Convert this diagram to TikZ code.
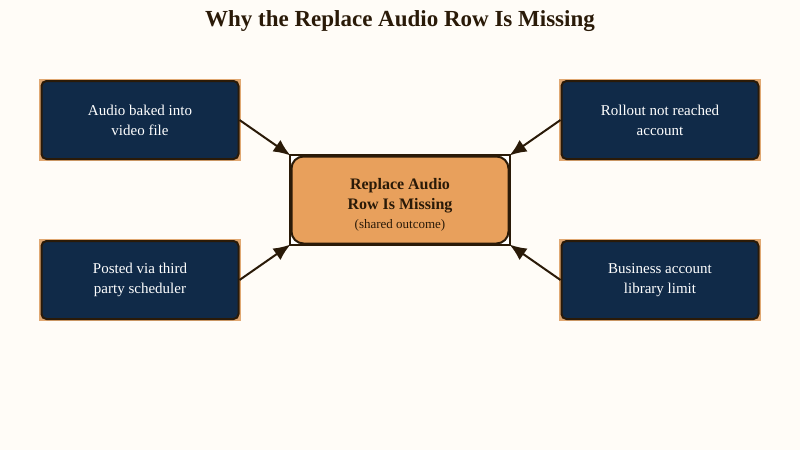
\documentclass[tikz,border=0pt]{standalone}
\usepackage{fontspec}
\setmainfont{Liberation Serif}
\usetikzlibrary{arrows.meta}
\definecolor{bg}{HTML}{FFFCF7}
\definecolor{navy}{HTML}{102A48}
\definecolor{tan}{HTML}{E0A872}
\definecolor{dk}{HTML}{2A1A08}
\definecolor{orng}{HTML}{E8A05C}
\tikzset{
  cause/.style={draw=dk,line width=2pt,fill=navy,rounded corners=5pt,minimum width=197pt,minimum height=78pt,text=white,align=center,font=\fontsize{15}{20}\selectfont},
  arr/.style={draw=dk,line width=2pt,-{Latex[length=17pt,width=14pt]}}
}
\begin{document}
\begin{tikzpicture}[x=1pt,y=-1pt]
\fill[bg] (0,0) rectangle (800,450);
\useasboundingbox (0,0) rectangle (800,450);
\node[font=\bfseries\fontsize{23}{26}\selectfont,text=dk] (title) at (400,21) {Why the Replace Audio Row Is Missing};
\foreach \n/\x/\y/\t in {a/140/120/{Audio baked into\\video file},b/140/280/{Posted via third\\party scheduler},c/660/120/{Rollout not reached\\account},d/660/280/{Business account\\library limit}}{
  \fill[tan] (\x-101,\y-41) rectangle (\x+101,\y+41);
  \node[cause] (\n) at (\x,\y) {\t};
}
\draw[dk,line width=1.2pt,fill=white] (290,155) rectangle (510,245);
\node[draw=dk,line width=2pt,fill=orng,rounded corners=12pt,minimum width=217pt,minimum height=87pt] (m) at (400,200) {};
\node[align=center,text=dk,font=\fontsize{16}{20}\selectfont] (mt) at (400,205) {\bfseries Replace Audio\\\bfseries Row Is Missing\\[-1pt]{\fontsize{13}{16}\selectfont (shared outcome)}};
\draw[arr] (a.east) -- (m.north west);
\draw[arr] (b.east) -- (m.south west);
\draw[arr] (c.west) -- (m.north east);
\draw[arr] (d.west) -- (m.south east);
\end{tikzpicture}
\end{document}
